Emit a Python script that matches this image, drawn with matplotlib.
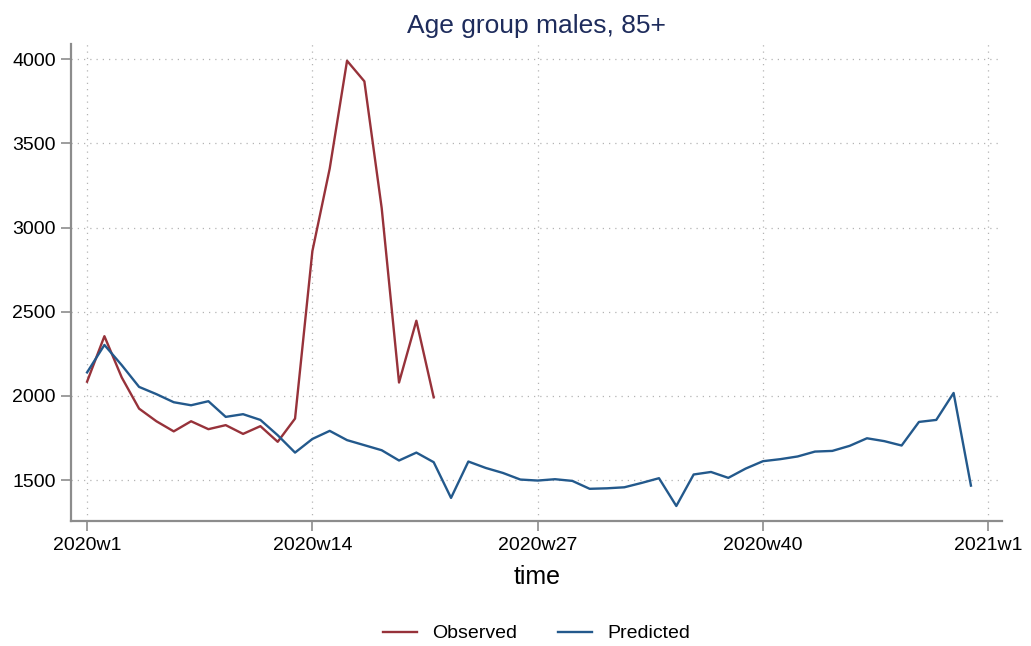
import matplotlib
matplotlib.use("Agg")
import matplotlib.pyplot as plt
import numpy as np

plt.rcParams["font.family"] = ["Liberation Sans", "DejaVu Sans"]

# Weekly series, index 0 = 2020w1
observed = [2085, 2355, 2110, 1925, 1850, 1790, 1850, 1803, 1827, 1775,
            1821, 1728, 1866, 2860, 3350, 3990, 3868, 3115, 2080, 2447,
            1992]
predicted = [2140, 2303, 2183, 2054, 2011, 1963, 1945, 1969, 1876, 1892,
             1858, 1767, 1664, 1745, 1793, 1738, 1708, 1678, 1617, 1664,
             1607, 1395, 1611, 1573, 1543, 1504, 1498, 1506, 1496, 1449,
             1452, 1458, 1484, 1512, 1347, 1534, 1549, 1514, 1569, 1613,
             1625, 1641, 1670, 1674, 1704, 1749, 1732, 1706, 1846, 1858,
             2018, 1468]

tick_pos = [0, 13, 26, 39, 52]
tick_labels = ["2020w1", "2020w14", "2020w27", "2020w40", "2021w1"]
y_ticks = [1500, 2000, 2500, 3000, 3500, 4000]

RED = "#97323a"
BLUE = "#23598c"
GRAY = "#8c8c8c"

fig = plt.figure(figsize=(10.31, 6.46), dpi=100)
ax = fig.add_axes([0.069, 0.193, 0.903, 0.739])

ax.plot(np.arange(len(observed)), observed, color=RED, linewidth=1.7, label="Observed")
ax.plot(np.arange(len(predicted)), predicted, color=BLUE, linewidth=1.7, label="Predicted")

ax.set_xlim(-0.92, 52.8)
ax.set_ylim(1256, 4090)
ax.set_xticks(tick_pos)
ax.set_xticklabels(tick_labels)
ax.set_yticks(y_ticks)

ax.grid(True, linestyle=(0, (1, 4)), color="#b4b4b4", linewidth=0.9)
for side in ["top", "right"]:
    ax.spines[side].set_visible(False)
for side in ["left", "bottom"]:
    ax.spines[side].set_color(GRAY)
    ax.spines[side].set_linewidth(1.6)
ax.tick_params(axis="both", length=7, width=1.2, color=GRAY, labelsize=14, pad=4)

ax.set_xlabel("time", fontsize=18, labelpad=8)
ax.set_title("Age group males, 85+", fontsize=19, color="#1e2c5c", pad=8)

ax.legend(loc="center", bbox_to_anchor=(0.5, -0.235), ncol=2, frameon=False,
          fontsize=14, handlelength=1.75, handletextpad=0.8, columnspacing=2.1)

fig.savefig("out.png", dpi=100, facecolor="white")
